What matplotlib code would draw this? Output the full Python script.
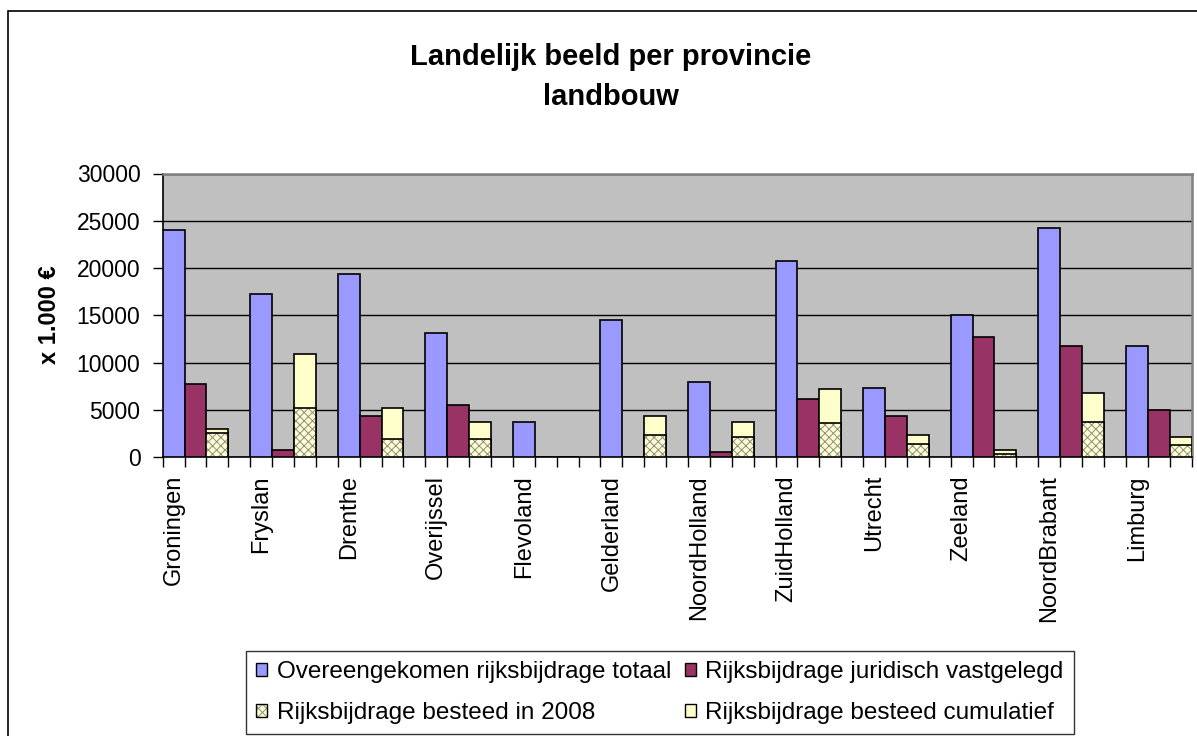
import matplotlib
matplotlib.use("Agg")
import matplotlib.pyplot as plt
import matplotlib.patches as mpatches
from matplotlib.legend_handler import HandlerTuple
import numpy as np

plt.rcParams['font.family'] = ['Liberation Sans', 'DejaVu Sans']

provinces = ["Groningen", "Fryslan", "Drenthe", "Overijssel", "Flevoland", "Gelderland",
             "NoordHolland", "ZuidHolland", "Utrecht", "Zeeland", "NoordBrabant", "Limburg"]
totaal = [24000, 17200, 19350, 13150, 3750, 14550, 7950, 20750, 7350, 15000, 24200, 11750]
juridisch = [7750, 750, 4350, 5550, 0, 0, 550, 6150, 4350, 12750, 11750, 4950]
besteed_2008 = [2500, 5150, 1950, 1950, 0, 2350, 2150, 3550, 1350, 300, 3750, 1300]
cumulatief = [2950, 10950, 5150, 3750, 0, 4350, 3750, 7150, 2350, 750, 6750, 2150]
series_labels = ["Overeengekomen rijksbijdrage totaal", "Rijksbijdrage juridisch vastgelegd",
                 "Rijksbijdrage besteed in 2008", "Rijksbijdrage besteed cumulatief"]
yticks = [0, 5000, 10000, 15000, 20000, 25000, 30000]

C_BLUE = "#9999FF"
C_MAROON = "#993366"
C_YELLOW = "#FFFFCC"
C_BG = "#C0C0C0"
C_HATCH = "#8C8C8C"

W, H = 1197, 736
fig = plt.figure(figsize=(W / 100, H / 100), dpi=100)
fig.patch.set_facecolor("white")

left, right = 162.7 / W, 1191.5 / W
bottom, top = 1 - 457 / H, 1 - 173.5 / H
ax = fig.add_axes([left, bottom, right - left, top - bottom])
ax.set_facecolor(C_BG)

n = len(provinces)
base = np.arange(n) * 4
lw = 1.2
ax.bar(base, totaal, width=1, align='edge', color=C_BLUE, edgecolor='black', linewidth=lw, zorder=3)
ax.bar(base + 1, juridisch, width=1, align='edge', color=C_MAROON, edgecolor='black', linewidth=lw, zorder=3)
ax.bar(base + 2, cumulatief, width=1, align='edge', color=C_YELLOW, edgecolor='black', linewidth=lw, zorder=3)
plt.rcParams['hatch.linewidth'] = 0.7
ax.bar(base + 2, besteed_2008, width=1, align='edge', color=C_YELLOW, edgecolor=C_HATCH,
       hatch='xxxx', linewidth=0, zorder=4)
ax.bar(base + 2, besteed_2008, width=1, align='edge', fill=False, edgecolor='black',
       linewidth=lw, zorder=5)

ax.set_xlim(0, 4 * n - 1)
ax.set_ylim(0, 30000)
ax.set_yticks(yticks)
ax.set_yticklabels([str(v) for v in yticks], fontsize=16.5)
ax.yaxis.grid(True, color='black', linewidth=1.0, zorder=1)
ax.set_axisbelow(True)

ax.set_xticks(np.arange(0, 4 * n))
ax.set_xticklabels([])
ax.set_xticks(base + 0.5, minor=True)
ax.set_xticklabels(provinces, minor=True, rotation=90, fontsize=17, va='top', ha='center')
ax.tick_params(axis='x', which='major', direction='out', length=7, width=1, color='black')
ax.tick_params(axis='x', which='minor', length=0, pad=13)
ax.tick_params(axis='y', direction='out', length=7, width=1, pad=9, color='black')

for s in ['top', 'right']:
    ax.spines[s].set_color('#808080')
    ax.spines[s].set_linewidth(1.8)
for s in ['left', 'bottom']:
    ax.spines[s].set_color('black')
    ax.spines[s].set_linewidth(1.2)
ax.spines['top'].set_zorder(6)

fig.text(50 / W, 1 - 315 / H, "x 1.000 €", rotation=90, ha='center', va='center',
         fontsize=17, fontweight='bold')
fig.text(611 / W, 1 - 57 / H, "Landelijk beeld per provincie", ha='center', va='center',
         fontsize=21, fontweight='bold')
fig.text(611 / W, 1 - 97 / H, "landbouw", ha='center', va='center',
         fontsize=21, fontweight='bold')

# outer chart border (partially cropped in the reference)
fig.add_artist(mpatches.Rectangle((8 / W, -0.1), 1.2, 1 - 11 / H + 0.1, transform=fig.transFigure,
                                  fill=False, edgecolor='black', linewidth=1.2))

h_tot = mpatches.Patch(facecolor=C_BLUE, edgecolor='black', linewidth=1)
h_jur = mpatches.Patch(facecolor=C_MAROON, edgecolor='black', linewidth=1)
h_08a = mpatches.Patch(facecolor=C_YELLOW, edgecolor=C_HATCH, hatch='xxxx', linewidth=0)
h_08b = mpatches.Patch(fill=False, edgecolor='black', linewidth=1)
h_cum = mpatches.Patch(facecolor=C_YELLOW, edgecolor='black', linewidth=1)
leg = fig.legend([h_tot, (h_08a, h_08b), h_jur, h_cum],
                 [series_labels[0], series_labels[2], series_labels[1], series_labels[3]],
                 handler_map={tuple: HandlerTuple(ndivide=1)},
                 ncol=2, loc='lower left', bbox_to_anchor=(246 / W, 2 / H),
                 fontsize=17.5, frameon=True, fancybox=False, edgecolor='black',
                 handlelength=0.45, handleheight=0.45, handletextpad=0.4, columnspacing=0.55,
                 borderpad=0.42, labelspacing=0.77, borderaxespad=0)
leg.get_frame().set_linewidth(1.0)

fig.savefig("out.png", dpi=100, facecolor='white')
